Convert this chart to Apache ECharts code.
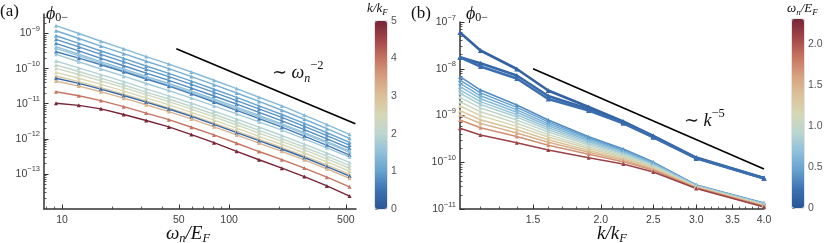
<!DOCTYPE html>
<html><head><meta charset="utf-8">
<script src="https://cdn.jsdelivr.net/npm/echarts@6/dist/echarts.min.js"></script>
<style>html,body{margin:0;padding:0;background:#fff}#c{width:831px;height:243px}</style>
</head><body><div id="c"></div>
<script>
// ---------------- data: panel (a) ----------------
const omegaA = [9.2, 12.6, 17.1, 23.4, 31.9, 43.6, 59.5, 81.2, 111, 151, 207, 282, 385, 526];
const kA = [1.4, 1.2, 1.0, 0.85, 0.75, 1.5, 1.6, 0.6, 1.7, 1.9, 2.1, 2.3, 2.5, 2.8, 0.3, 3.2, 4.0, 5.0];
const phiA01 = [1.67e-9, 1.0e-9, 6.03e-10, 3.66e-10, 2.20e-10, 1.35e-10, 8.02e-11, 4.67e-11, 2.70e-11, 1.53e-11, 8.63e-12, 4.74e-12, 2.55e-12, 1.34e-12];
const phiA02 = [1.20e-9, 7.23e-10, 4.39e-10, 2.67e-10, 1.62e-10, 9.95e-11, 5.94e-11, 3.48e-11, 2.02e-11, 1.16e-11, 6.52e-12, 3.61e-12, 1.95e-12, 1.03e-12];
const phiA03 = [8.65e-10, 5.22e-10, 3.18e-10, 1.95e-10, 1.19e-10, 7.33e-11, 4.40e-11, 2.58e-11, 1.51e-11, 8.69e-12, 4.93e-12, 2.74e-12, 1.49e-12, 7.94e-13];
const phiA04 = [6.84e-10, 4.15e-10, 2.54e-10, 1.56e-10, 9.53e-11, 5.90e-11, 3.56e-11, 2.10e-11, 1.23e-11, 7.11e-12, 4.06e-12, 2.26e-12, 1.24e-12, 6.62e-13];
const phiA05 = [5.26e-10, 3.21e-10, 1.96e-10, 1.21e-10, 7.43e-11, 4.62e-11, 2.79e-11, 1.66e-11, 9.75e-12, 5.65e-12, 3.24e-12, 1.82e-12, 9.95e-13, 5.36e-13];
const phiA06 = [4.21e-10, 2.57e-10, 1.58e-10, 9.79e-11, 6.03e-11, 3.76e-11, 2.28e-11, 1.36e-11, 8.00e-12, 4.66e-12, 2.68e-12, 1.51e-12, 8.30e-13, 4.49e-13];
const phiA07 = [3.78e-10, 2.32e-10, 1.43e-10, 8.85e-11, 5.46e-11, 3.40e-11, 2.07e-11, 1.23e-11, 7.28e-12, 4.25e-12, 2.44e-12, 1.38e-12, 7.62e-13, 4.12e-13];
const phiA08 = [3.03e-10, 1.99e-10, 1.29e-10, 8.13e-11, 5.06e-11, 3.17e-11, 1.91e-11, 1.12e-11, 6.49e-12, 3.75e-12, 2.14e-12, 1.20e-12, 6.53e-13, 3.45e-13];
const phiA09 = [2.55e-10, 1.57e-10, 9.75e-11, 6.08e-11, 3.77e-11, 2.37e-11, 1.45e-11, 8.67e-12, 5.16e-12, 3.03e-12, 1.76e-12, 9.98e-13, 5.55e-13, 3.03e-13];
const phiA10 = [1.65e-10, 1.05e-10, 6.71e-11, 4.25e-11, 2.66e-11, 1.68e-11, 1.03e-11, 6.17e-12, 3.65e-12, 2.14e-12, 1.24e-12, 7.05e-13, 3.93e-13, 2.13e-13];
const phiA11 = [1.27e-10, 8.28e-11, 5.36e-11, 3.41e-11, 2.15e-11, 1.36e-11, 8.32e-12, 5.01e-12, 2.96e-12, 1.73e-12, 1.01e-12, 5.75e-13, 3.20e-13, 1.73e-13];
const phiA12 = [1.02e-10, 6.79e-11, 4.47e-11, 2.86e-11, 1.81e-11, 1.15e-11, 7.03e-12, 4.22e-12, 2.48e-12, 1.46e-12, 8.47e-13, 4.85e-13, 2.69e-13, 1.45e-13];
const phiA13 = [7.85e-11, 5.33e-11, 3.56e-11, 2.29e-11, 1.46e-11, 9.29e-12, 5.69e-12, 3.42e-12, 2.01e-12, 1.18e-12, 6.89e-13, 3.94e-13, 2.20e-13, 1.19e-13];
const phiA14 = [6.15e-11, 4.26e-11, 2.88e-11, 1.87e-11, 1.20e-11, 7.62e-12, 4.70e-12, 2.81e-12, 1.65e-12, 9.75e-13, 5.66e-13, 3.26e-13, 1.81e-13, 9.75e-14];
const phiA15 = [5.30e-11, 3.79e-11, 2.61e-11, 1.71e-11, 1.11e-11, 7.06e-12, 4.34e-12, 2.58e-12, 1.50e-12, 8.83e-13, 5.12e-13, 2.93e-13, 1.62e-13, 8.65e-14];
const phiA16 = [4.44e-11, 3.18e-11, 2.20e-11, 1.44e-11, 9.35e-12, 5.98e-12, 3.68e-12, 2.19e-12, 1.29e-12, 7.55e-13, 4.40e-13, 2.52e-13, 1.40e-13, 7.50e-14];
const phiA17 = [2.20e-11, 1.69e-11, 1.23e-11, 8.26e-12, 5.40e-12, 3.51e-12, 2.14e-12, 1.29e-12, 7.46e-13, 4.34e-13, 2.54e-13, 1.47e-13, 8.05e-14, 4.29e-14];
const phiA18 = [1.03e-11, 8.97e-12, 7.13e-12, 4.94e-12, 3.33e-12, 2.18e-12, 1.32e-12, 7.78e-13, 4.40e-13, 2.53e-13, 1.46e-13, 8.41e-14, 4.55e-14, 2.34e-14];
const refAx = [48.3, 570];
const refAy = [3.7e-10, 2.7e-12];
const xTicksA = [10, 50, 100, 500];
const yTicksA = [1e-13, 1e-12, 1e-11, 1e-10, 1e-9];
const cbTicksA = [0, 1, 2, 3, 4, 5];

// ---------------- data: panel (b) ----------------
const kB = [1.1, 1.2, 1.4, 1.6, 1.9, 2.2, 2.5, 3.0, 4.0];
const omegaB = [0.1, 0.15, 0.2, 0.35, 0.45, 0.55, 0.65, 0.75, 0.85, 0.95, 1.05, 1.2, 1.35, 1.5, 1.7, 2.1];
const phiB01 = [5.96e-8, 2.46e-8, 9.88e-9, 3.43e-9, 1.52e-9, 7.44e-10, 3.64e-10, 1.26e-10, 4.60e-11];
const phiB02 = [1.76e-8, 1.31e-8, 7.18e-9, 2.61e-9, 1.38e-9, 7.08e-10, 3.50e-10, 1.23e-10, 4.54e-11];
const phiB03 = [1.76e-8, 1.12e-8, 6.18e-9, 2.25e-9, 1.28e-9, 6.81e-10, 3.42e-10, 1.21e-10, 4.47e-11];
const phiB04 = [6.76e-9, 3.51e-9, 1.68e-9, 8.02e-10, 3.52e-10, 1.92e-10, 1.01e-10, 3.26e-11, 1.34e-11];
const phiB05 = [5.74e-9, 3.04e-9, 1.49e-9, 7.30e-10, 3.30e-10, 1.83e-10, 9.84e-11, 3.23e-11, 1.32e-11];
const phiB06 = [4.89e-9, 2.64e-9, 1.32e-9, 6.64e-10, 3.08e-10, 1.75e-10, 9.51e-11, 3.20e-11, 1.31e-11];
const phiB07 = [4.13e-9, 2.29e-9, 1.17e-9, 6.03e-10, 2.88e-10, 1.66e-10, 9.23e-11, 3.15e-11, 1.29e-11];
const phiB08 = [3.51e-9, 1.98e-9, 1.04e-9, 5.48e-10, 2.70e-10, 1.58e-10, 8.91e-11, 3.12e-11, 1.28e-11];
const phiB09 = [2.99e-9, 1.72e-9, 9.25e-10, 4.97e-10, 2.52e-10, 1.52e-10, 8.65e-11, 3.09e-11, 1.26e-11];
const phiB10 = [2.45e-9, 1.45e-9, 7.98e-10, 4.44e-10, 2.33e-10, 1.43e-10, 8.32e-11, 3.04e-11, 1.24e-11];
const phiB11 = [1.97e-9, 1.20e-9, 6.81e-10, 3.90e-10, 2.13e-10, 1.34e-10, 7.94e-11, 3.00e-11, 1.22e-11];
const phiB12 = [1.60e-9, 9.95e-10, 5.85e-10, 3.47e-10, 1.96e-10, 1.26e-10, 7.64e-11, 2.96e-11, 1.20e-11];
const phiB13 = [1.27e-9, 8.13e-10, 4.94e-10, 3.02e-10, 1.78e-10, 1.18e-10, 7.31e-11, 2.91e-11, 1.18e-11];
const phiB14 = [1.03e-9, 6.78e-10, 4.23e-10, 2.67e-10, 1.63e-10, 1.11e-10, 7.03e-11, 2.87e-11, 1.16e-11];
const phiB15 = [8.02e-10, 5.46e-10, 3.54e-10, 2.32e-10, 1.48e-10, 1.03e-10, 6.70e-11, 2.82e-11, 1.14e-11];
const phiB16 = [5.32e-10, 3.83e-10, 2.62e-10, 1.83e-10, 1.25e-10, 9.18e-11, 6.18e-11, 2.74e-11, 1.10e-11];
const refBx = [1.5, 4.0];
const refBy = [1.0e-8, 7.2e-11];
const xTicksB = [1.5, 2.0, 2.5, 3.0, 3.5, 4.0];
const yTicksB = [1e-11, 1e-10, 1e-9, 1e-8, 1e-7];
const cbTicksB = [0, 0.5, 1.0, 1.5, 2.0];

// ---------------- styling ----------------
const SANS = '"Liberation Sans", Arial, sans-serif';
const SERIF = '"Liberation Serif", "DejaVu Serif", serif';
const AX = '#333333';
const LBL = '#404040';
const cmapStops = ['#2a5595','#3c72b2','#65a2cf','#8fc0db','#bcd6d0','#d6d7b4','#dbc198','#d6a07e','#c67460','#a2464a','#772537'];
function hexRgb(h){return [1,3,5].map(i=>parseInt(h.slice(i,i+2),16));}
function cmap(t){
  t = Math.max(0, Math.min(1, t));
  const n = cmapStops.length - 1;
  const i = Math.min(n - 1, Math.floor(t * n));
  const f = t * n - i;
  const a = hexRgb(cmapStops[i]), b = hexRgb(cmapStops[i + 1]);
  const c = a.map((v, j) => Math.round(v + (b[j] - v) * f));
  return 'rgb(' + c.join(',') + ')';
}
function minorLog(lo, hi, mults){
  const out = [];
  for (let e = Math.floor(Math.log10(lo)) ; e <= Math.ceil(Math.log10(hi)); e++){
    mults.forEach(m => { const v = m * Math.pow(10, e); if (v >= lo && v <= hi) out.push(v); });
  }
  return out;
}
const expFmt = v => { const e = Math.round(Math.log10(v)); return '{b|10}{e|' + (e < 0 ? '\u2212' : '') + Math.abs(e) + '}'; };
const expRich = { b: { fontSize: 10.5, fontFamily: SANS, color: LBL }, e: { fontSize: 7.5, fontFamily: SANS, color: LBL, padding: [0, 0, 9, 0] } };
const nameRich = (big, small) => ({
  i: { fontSize: big, fontFamily: SERIF, fontStyle: 'italic', color: '#111' },
  r: { fontSize: big, fontFamily: SERIF, color: '#111' },
  s: { fontSize: small, fontFamily: SERIF, fontStyle: 'italic', color: '#111', padding: [Math.round(big * 0.55), 0, 0, 0] },
  su: { fontSize: small, fontFamily: SERIF, color: '#111', padding: [Math.round(big * 0.4), 0, 0, 0] }
});

function mainLogAxis(grid, min, max, pos, ticks, fmt, rich, margin, extra){
  return Object.assign({
    type: 'log', logBase: 10, gridIndex: grid, min: min, max: max, position: pos,
    axisLine: { show: true, onZero: false, lineStyle: { color: AX, width: 1.5 } },
    axisTick: { show: true, inside: true, length: 4.5, customValues: ticks, lineStyle: { color: AX, width: 1 } },
    axisLabel: { show: true, customValues: ticks, formatter: fmt, rich: rich, color: LBL, fontSize: 10.5, fontFamily: SANS, margin: margin },
    splitLine: { show: false }, minorTick: { show: false }, minorSplitLine: { show: false }
  }, extra || {});
}
function minorLogAxis(grid, min, max, pos, ticks){
  return {
    type: 'log', logBase: 10, gridIndex: grid, min: min, max: max, position: pos,
    axisLine: { show: false, onZero: false },
    axisTick: { show: true, inside: true, length: 2.5, customValues: ticks, lineStyle: { color: AX, width: 0.8 } },
    axisLabel: { show: false }, splitLine: { show: false }
  };
}

const xminA = 7.8, xmaxA = 575, yminA = 1e-14, ymaxA = 3.6e-9;
const xminB = 1.1, xmaxB = 4.0, yminB = 0.9999e-11, ymaxB = 1.0001e-7;

const xAxis = [
  mainLogAxis(0, xminA, xmaxA, 'bottom', xTicksA, v => String(Math.round(v)), null, 6, {
    name: '{i|\u03c9}{s|n}{i|/E}{s|F}', nameLocation: 'middle', nameGap: 13, nameMoveOverlap: false,
    nameTextStyle: { rich: nameRich(19, 12.5), padding: [0, 24, 0, 0], verticalAlign: 'top' }
  }),
  minorLogAxis(0, xminA, xmaxA, 'bottom', [8, 9, 20, 30, 40, 60, 70, 80, 90, 200, 300, 400]),
  mainLogAxis(1, xminB, xmaxB, 'bottom', xTicksB, v => v.toFixed(1), null, 6, {
    name: '{i|k/k}{s|F}', nameLocation: 'middle', nameGap: 13, nameMoveOverlap: false,
    nameTextStyle: { rich: nameRich(19, 12.5), verticalAlign: 'top' }
  }),
  minorLogAxis(1, xminB, xmaxB, 'bottom', [1.2,1.3,1.4,1.6,1.7,1.8,1.9,2.1,2.2,2.3,2.4,2.6,2.7,2.8,2.9,3.1,3.2,3.3,3.4,3.6,3.7,3.8,3.9]),
  { type: 'value', gridIndex: 2, min: 0, max: 1, show: false },
  { type: 'value', gridIndex: 3, min: 0, max: 1, show: false }
];
const yAxis = [
  mainLogAxis(0, yminA, ymaxA, 'left', yTicksA, expFmt, expRich, 4, {
    name: '{p|\u03d5}{su|0\u2212}', nameLocation: 'end', nameGap: 0, nameMoveOverlap: false,
    nameTextStyle: { align: 'left', verticalAlign: 'middle', padding: [0, 0, 0, 2], rich: Object.assign(nameRich(18, 12), { p: { fontSize: 18, fontFamily: SERIF, fontStyle: 'italic', color: '#111' } }) }
  }),
  minorLogAxis(0, yminA, ymaxA, 'left', minorLog(yminA, ymaxA, [2,3,4,5,6,7,8,9])),
  mainLogAxis(1, yminB, ymaxB, 'left', yTicksB, expFmt, expRich, 4, {
    name: '{p|\u03d5}{su|0\u2212}', nameLocation: 'end', nameGap: 8, nameMoveOverlap: false,
    nameTextStyle: { align: 'left', verticalAlign: 'middle', padding: [0, 0, 0, 6], rich: Object.assign(nameRich(18, 12), { p: { fontSize: 18, fontFamily: SERIF, fontStyle: 'italic', color: '#111' } }) }
  }),
  minorLogAxis(1, yminB, ymaxB, 'left', minorLog(yminB, ymaxB, [2,3,4,5,6,7,8,9])),
  { type: 'value', gridIndex: 2, min: 0, max: 5, interval: 1, position: 'right',
    axisLine: { show: false }, axisTick: { show: true, length: 3, lineStyle: { color: '#9a9a9a' } },
    minorTick: { show: true, splitNumber: 4, length: 2, lineStyle: { color: '#b0b0b0' } },
    axisLabel: { color: '#555', fontSize: 10.5, fontFamily: SANS, margin: 4, formatter: v => String(v) }, splitLine: { show: false } },
  { type: 'value', gridIndex: 3, min: 0, max: 2.3, interval: 0.5, position: 'right',
    axisLine: { show: false }, axisTick: { show: true, length: 3, lineStyle: { color: '#9a9a9a' } },
    minorTick: { show: true, splitNumber: 5, length: 2, lineStyle: { color: '#b0b0b0' } },
    axisLabel: { color: '#555', fontSize: 10.5, fontFamily: SANS, margin: 4, showMaxLabel: false, formatter: v => v === 0 ? '0' : v.toFixed(1) }, splitLine: { show: false } }
];

const series = [];
const linesA = [phiA01, phiA02, phiA03, phiA04, phiA05, phiA06, phiA07, phiA08, phiA09, phiA10, phiA11, phiA12, phiA13, phiA14, phiA15, phiA16, phiA17, phiA18];
linesA.forEach((vals, j) => {
  const c = cmap(kA[j] / 5);
  series.push({ type: 'line', xAxisIndex: 0, yAxisIndex: 0, data: omegaA.map((x, i) => [x, vals[i]]),
    symbol: 'triangle', symbolSize: 4, showSymbol: true, lineStyle: { color: c, width: 1.4 }, itemStyle: { color: c },
    silent: true, animation: false, z: 2 });
});
series.push({ type: 'line', xAxisIndex: 0, yAxisIndex: 0, data: refAx.map((x, i) => [x, refAy[i]]), symbol: 'none',
  lineStyle: { color: '#000', width: 1.6 }, silent: true, animation: false, z: 3 });

const linesB = [phiB01, phiB02, phiB03, phiB04, phiB05, phiB06, phiB07, phiB08, phiB09, phiB10, phiB11, phiB12, phiB13, phiB14, phiB15, phiB16];
linesB.forEach((vals, j) => {
  const c = cmap(omegaB[j] / 2.3);
  series.push({ type: 'line', xAxisIndex: 2, yAxisIndex: 2, data: kB.map((x, i) => [x, vals[i]]),
    symbol: 'triangle', symbolSize: j < 3 ? 5 : 4, showSymbol: true, lineStyle: { color: c, width: j < 3 ? 2.6 : 1.5 }, itemStyle: { color: c },
    silent: true, animation: false, z: 2 });
});
series.push({ type: 'line', xAxisIndex: 2, yAxisIndex: 2, data: refBx.map((x, i) => [x, refBy[i]]), symbol: 'none',
  lineStyle: { color: '#000', width: 1.6 }, silent: true, animation: false, z: 3 });

const chart = echarts.init(document.getElementById('c'), null, { renderer: 'canvas' });
chart.setOption({
  animation: false,
  backgroundColor: '#ffffff',
  grid: [
    { left: 44, top: 14, width: 312, height: 195, containLabel: false, outerBoundsMode: 'none' },
    { left: 460, top: 22, width: 304, height: 187, containLabel: false, outerBoundsMode: 'none' },
    { left: 375, top: 21, width: 12, height: 188, containLabel: false, outerBoundsMode: 'none', show: true, borderColor: '#c8c8c8', borderWidth: 1, backgroundColor: 'transparent' },
    { left: 792, top: 19, width: 12, height: 189, containLabel: false, outerBoundsMode: 'none', show: true, borderColor: '#c8c8c8', borderWidth: 1, backgroundColor: 'transparent' }
  ],
  xAxis: xAxis,
  yAxis: yAxis,
  visualMap: [
    { type: 'continuous', seriesIndex: [], min: 0, max: 5, orient: 'vertical', left: 375, top: 21, padding: 0,
      itemWidth: 12, itemHeight: 188, calculable: false, hoverLink: false, inRange: { color: cmapStops }, textStyle: { fontSize: 0 }, text: null },
    { type: 'continuous', seriesIndex: [], min: 0, max: 2.3, orient: 'vertical', left: 792, top: 19, padding: 0,
      itemWidth: 12, itemHeight: 189, calculable: false, hoverLink: false, inRange: { color: cmapStops }, textStyle: { fontSize: 0 }, text: null }
  ],
  graphic: [
    { type: 'text', left: 0, top: 3, style: { text: '(a)', font: '17px ' + SERIF, fill: '#111' } },
    { type: 'text', left: 411, top: 5, style: { text: '(b)', font: '17px ' + SERIF, fill: '#111' } },
    { type: 'text', x: 272, y: 73, style: { text: '{r|\u223c }{i|\u03c9}{s|n}{p|\u22122}', verticalAlign: 'middle',
      rich: { r: { fontSize: 18, fontFamily: SERIF, fill: '#111' }, i: { fontSize: 18, fontFamily: SERIF, fontStyle: 'italic', fill: '#111' },
        s: { fontSize: 12, fontFamily: SERIF, fontStyle: 'italic', fill: '#111', padding: [11, 0, 0, 0] },
        p: { fontSize: 12.5, fontFamily: SERIF, fill: '#111', padding: [0, 0, 14, 0] } } } },
    { type: 'text', x: 684, y: 121, style: { text: '{r|\u223c }{i|k}{p|\u22125}', verticalAlign: 'middle',
      rich: { r: { fontSize: 18, fontFamily: SERIF, fill: '#111' }, i: { fontSize: 18, fontFamily: SERIF, fontStyle: 'italic', fill: '#111' },
        p: { fontSize: 12.5, fontFamily: SERIF, fill: '#111', padding: [0, 0, 14, 0] } } } },
    { type: 'text', x: 367, y: 9, style: { text: '{i|k/k}{s|F}', verticalAlign: 'middle',
      rich: { i: { fontSize: 13, fontFamily: SERIF, fontStyle: 'italic', fill: '#111' }, s: { fontSize: 9, fontFamily: SERIF, fontStyle: 'italic', fill: '#111', padding: [7, 0, 0, 0] } } } },
    { type: 'text', x: 787, y: 9, style: { text: '{i|\u03c9}{s|n}{i|/E}{s|F}', verticalAlign: 'middle',
      rich: { i: { fontSize: 13, fontFamily: SERIF, fontStyle: 'italic', fill: '#111' }, s: { fontSize: 9, fontFamily: SERIF, fontStyle: 'italic', fill: '#111', padding: [7, 0, 0, 0] } } } }
  ],
  series: series
});
</script></body></html>
